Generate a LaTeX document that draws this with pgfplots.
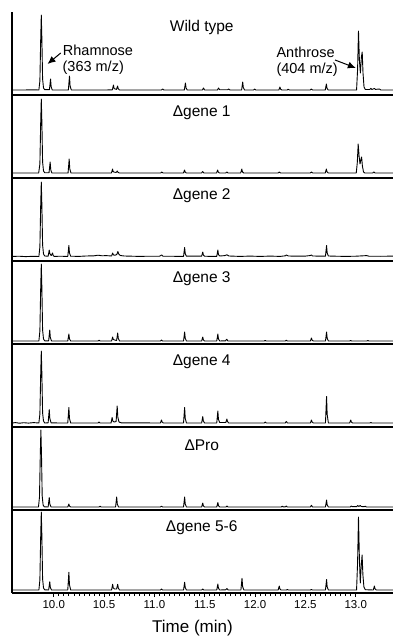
\documentclass[border=0pt]{standalone}
\usepackage{pgfplots}
\pgfplotsset{compat=1.18}
\usepackage{fontspec}
\setmainfont{Liberation Sans}
\usetikzlibrary{arrows.meta}
\pgfplotsset{
  panel/.style={
    scale only axis, width=381bp, height=83bp,
    xmin=9.585, xmax=13.37, ymin=0, ymax=83,
    axis x line=bottom, axis y line=left,
    axis line style={-, line width=1.4bp},
    xtick=\empty, ytick=\empty,
    clip=false, anchor=north west,
  },
  trace/.style={black, line width=0.9bp, line join=round, no marks},
}
\newcommand{\ptitle}{\fontsize{15.5bp}{18bp}\selectfont}
\newcommand{\pann}{\fontsize{14.5bp}{17bp}\selectfont}
\begin{document}
\begin{tikzpicture}
% Wild type
\begin{axis}[panel, at={(12bp,-12bp)}]
\addplot[trace] coordinates {(9.585,5)(9.70,5)(9.80,5.2)(9.852,5)
(9.862,14)(9.870,55)(9.876,80)(9.882,55)(9.889,16)(9.898,7)(9.91,5.3)
(9.957,5.3)(9.968,16)(9.974,8.3)(9.985,5)
(10.145,5)(10.156,19)(10.162,9.2)(10.174,5)
(10.52,5)(10.582,5.2)(10.593,10)(10.599,6.5)(10.61,6)(10.623,5.6)(10.634,9)(10.640,6.4)(10.652,5)
(11.07,5)(11.082,6)(11.094,5)
(11.297,5)(11.308,12)(11.314,7.1)(11.326,5)
(11.476,5)(11.487,7)(11.499,5)
(11.626,5)(11.637,7)(11.648,5.2)(11.726,5.2)(11.737,6)(11.75,5)
(11.866,5)(11.877,13)(11.883,7.4)(11.895,5)
(11.985,5)(11.996,5.9)(12.008,5)
(12.236,5)(12.247,8)(12.253,5.9)(12.265,5)
(12.318,5)(12.329,5.8)(12.34,5)
(12.548,5)(12.558,6)(12.57,5)
(12.697,5)(12.708,11)(12.714,6.8)(12.726,5)
(13.008,5)(13.018,25)(13.027,64)(13.036,35)(13.046,22)(13.056,38)(13.064,43)(13.072,22)(13.082,8)(13.095,5.5)
(13.14,5.5)(13.15,6.6)(13.16,5.5)(13.185,6.5)(13.195,5.6)(13.235,6)(13.25,5)(13.37,5)};
\node[font=\ptitle] at (axis cs:11.47,68) {Wild type};
\node[font=\pann, anchor=west, inner sep=0pt] at (axis cs:10.089,45) {Rhamnose};
\node[font=\pann, anchor=west, inner sep=0pt] at (axis cs:10.086,27) {(363 m/z)};
\node[font=\pann, anchor=west, inner sep=0pt] at (axis cs:12.211,42.3) {Anthrose};
\node[font=\pann, anchor=west, inner sep=0pt] at (axis cs:12.211,25) {(404 m/z)};
\draw[line width=1bp, -{Latex[length=8bp,width=7bp]}] (axis cs:10.069,42) -- (axis cs:9.938,31);
\draw[line width=1bp, -{Latex[length=8bp,width=7bp]}] (axis cs:12.794,35) -- (axis cs:13.001,27);
\end{axis}
% Delta gene 1
\begin{axis}[panel, at={(12bp,-95bp)}]
\addplot[trace] coordinates {(9.585,5)(9.85,5)
(9.862,14)(9.870,55)(9.876,79)(9.882,55)(9.889,16)(9.898,7)(9.91,5.3)
(9.953,5.3)(9.964,16)(9.970,8.3)(9.981,5)
(10.142,5)(10.153,19)(10.159,9.2)(10.171,5)
(10.573,5)(10.584,9)(10.590,6.3)(10.603,5.8)(10.620,5.6)(10.631,7)(10.637,5.8)(10.65,5)
(11.062,5)(11.073,6)(11.085,5)
(11.288,5)(11.299,8)(11.305,5.9)(11.317,5)
(11.468,5)(11.479,6.5)(11.491,5)
(11.617,5)(11.628,8)(11.634,5.9)(11.646,5)
(11.708,5)(11.72,6)(11.732,5)
(11.857,5)(11.868,9)(11.874,6.2)(11.886,5)
(12.228,5)(12.24,6)(12.252,5)
(12.548,5)(12.56,6)(12.572,5)
(12.697,5)(12.708,9)(12.714,6.2)(12.726,5)
(13.005,5)(13.015,15)(13.024,34)(13.033,22)(13.042,14)(13.052,19)(13.058,21)(13.066,12)(13.077,6)(13.09,5)
(13.168,5)(13.18,6)(13.192,5)(13.37,5)};
\node[font=\ptitle] at (axis cs:11.47,65) {Δgene 1};
\end{axis}
% Delta gene 2
\begin{axis}[panel, at={(12bp,-178bp)}]
\addplot[trace] coordinates {(9.585,4.5)(9.65,4.8)(9.72,4.4)(9.80,4.7)(9.852,4.5)
(9.862,14)(9.870,55)(9.876,79)(9.882,55)(9.889,16)(9.898,7)(9.91,5)
(9.944,4.8)(9.955,11)(9.962,7)(9.975,5.5)(9.988,8)(9.994,5.5)(10.005,4.6)
(10.07,4.8)(10.139,4.5)(10.15,15.5)(10.156,8)(10.168,4.8)
(10.25,4.6)(10.32,5)(10.40,5.2)(10.44,5.8)(10.48,5.2)(10.52,5.4)(10.574,5)(10.585,8)(10.593,6)(10.610,5.8)(10.626,6.5)(10.637,9.5)(10.645,7)(10.66,5.5)(10.70,5)
(10.85,4.6)(10.95,4.8)(11.05,4.8)(11.072,6)(11.085,4.8)(11.2,4.7)
(11.289,4.6)(11.3,13.5)(11.306,7.3)(11.318,4.8)(11.40,4.9)
(11.469,4.8)(11.48,9)(11.486,6)(11.498,4.8)(11.56,4.6)
(11.619,4.6)(11.63,11)(11.636,6.5)(11.648,5)(11.70,5.4)(11.72,6.2)(11.74,5)
(11.85,4.6)(11.95,4.9)(12.05,4.6)(12.15,4.9)(12.25,4.6)(12.3,5.2)(12.31,6)(12.33,5)(12.42,4.8)(12.50,4.9)(12.55,5.5)(12.56,6)(12.57,5)
(12.699,4.8)(12.71,15.5)(12.716,8)(12.728,5)(12.80,4.8)(12.90,4.6)(13.0,4.8)(13.11,5.4)(13.13,4.8)(13.25,4.7)(13.37,4.9)};
\node[font=\ptitle] at (axis cs:11.47,65) {Δgene 2};
\end{axis}
% Delta gene 3
\begin{axis}[panel, at={(12bp,-261bp)}]
\addplot[trace] coordinates {(9.585,3)(9.852,3)
(9.862,13)(9.870,55)(9.876,80)(9.882,55)(9.889,14)(9.898,5)(9.91,3.2)
(9.949,3.2)(9.96,14)(9.966,6.3)(9.978,3)
(10.139,3)(10.15,10)(10.156,5.1)(10.168,3)
(10.44,3)(10.45,3.8)(10.46,3)
(10.574,3)(10.585,7)(10.591,4.5)(10.612,3.8)(10.624,3.5)(10.635,11)(10.641,5.5)(10.653,3)
(11.06,3)(11.07,4)(11.08,3)
(11.289,3)(11.3,12)(11.306,5.7)(11.318,3)
(11.469,3)(11.48,7)(11.486,4.2)(11.498,3)
(11.619,3)(11.63,10)(11.636,5.1)(11.648,3)(11.706,3.2)(11.718,4.8)(11.73,3)
(12.09,3)(12.10,3.6)(12.11,3)
(12.30,3)(12.31,3.8)(12.32,3)
(12.549,3)(12.56,6)(12.566,3.9)(12.578,3)
(12.699,3)(12.71,12)(12.716,5.7)(12.728,3)
(12.94,3)(12.95,3.5)(12.96,3)(13.11,3)(13.12,3.5)(13.13,3)(13.37,3)};
\node[font=\ptitle] at (axis cs:11.47,65) {Δgene 3};
\end{axis}
% Delta gene 4
\begin{axis}[panel, at={(12bp,-344bp)}]
\addplot[trace] coordinates {(9.585,4)(9.62,4.4)(9.66,3.8)(9.70,4.3)(9.75,3.9)(9.80,4.4)(9.852,4)
(9.862,13)(9.870,52)(9.876,76)(9.882,52)(9.889,14)(9.898,6)(9.91,4)
(9.944,4.2)(9.955,17.5)(9.961,8.5)(9.973,4.2)(10.05,4)
(10.139,4)(10.15,19.5)(10.156,8.6)(10.168,4)
(10.44,4)(10.45,5)(10.46,4)
(10.569,4)(10.58,9.5)(10.586,6)(10.60,5)(10.619,5.5)(10.63,21)(10.636,10)(10.648,5)(10.67,4.2)
(11.059,4)(11.07,7)(11.076,5)(11.088,4)
(11.289,4)(11.3,19.5)(11.306,8.6)(11.318,4)
(11.469,4)(11.48,10.5)(11.486,6)(11.498,4)
(11.619,4)(11.63,16)(11.636,7.6)(11.648,4.5)(11.709,4.5)(11.72,8)(11.726,5.5)(11.738,4)
(12.09,4)(12.10,5)(12.11,4)
(12.299,4)(12.31,5.5)(12.322,4)
(12.549,4)(12.56,7)(12.566,5)(12.578,4)
(12.699,4)(12.71,30.5)(12.716,12.5)(12.728,4)
(12.939,4)(12.95,7)(12.956,5)(12.968,4)
(13.14,4)(13.15,4.5)(13.16,4)(13.37,4)};
\node[font=\ptitle] at (axis cs:11.47,65) {Δgene 4};
\end{axis}
% Delta Pro
\begin{axis}[panel, at={(12bp,-427bp)}]
\addplot[trace] coordinates {(9.585,3)(9.848,3)
(9.858,13)(9.866,55)(9.872,80)(9.878,55)(9.885,14)(9.894,5)(9.906,3.2)
(9.944,3)(9.955,12.5)(9.961,5.9)(9.973,3)
(10.139,3)(10.15,6)(10.156,3.9)(10.168,3)
(10.45,3)(10.46,3.8)(10.47,3)
(10.614,3)(10.625,13)(10.631,6)(10.643,3)
(11.06,3)(11.07,3.8)(11.08,3)
(11.289,3)(11.3,13)(11.306,6)(11.318,3)
(11.469,3)(11.48,7)(11.486,4.2)(11.498,3)
(11.619,3)(11.63,7.5)(11.636,4.4)(11.648,3)(11.71,3)(11.72,4)(11.73,3)
(12.26,3)(12.27,3.8)(12.28,3.1)(12.30,3.2)(12.31,4)(12.32,3)
(12.549,3)(12.56,4.7)(12.57,3)
(12.699,3)(12.71,10)(12.716,5.1)(12.728,3)
(12.945,3)(12.955,4)(12.965,3.3)(13.01,3.4)(13.02,4.5)(13.03,3.6)(13.045,4.5)(13.055,3.5)(13.085,3.3)(13.095,3.8)(13.105,3)(13.37,3)};
\node[font=\ptitle] at (axis cs:11.47,65) {ΔPro};
\end{axis}
% Delta gene 5-6
\begin{axis}[panel, at={(12bp,-510bp)},
  xtick={10,10.5,...,13}, minor x tick num=9,
  tick align=outside, major tick length=4bp, minor tick length=3bp,
  every tick/.style={black, line width=0.8bp},
  xticklabel style={font=\fontsize{11.5bp}{13bp}\selectfont, /pgf/number format/fixed, /pgf/number format/fixed zerofill, /pgf/number format/precision=1, /pgf/number format/assume math mode=true},
  xlabel={Time (min)},
  xlabel style={font=\fontsize{17bp}{20bp}\selectfont, xshift=-10bp, yshift=-5bp},
]
\addplot[trace] coordinates {(9.585,3)(9.852,3)
(9.862,13)(9.870,56)(9.876,81)(9.882,56)(9.889,14)(9.898,5)(9.91,3.2)
(9.949,3)(9.96,11.3)(9.966,5.5)(9.978,3)
(10.139,3)(10.15,20.7)(10.156,8.3)(10.168,3)
(10.574,3)(10.585,8.7)(10.591,5)(10.605,4)(10.624,4)(10.635,8.7)(10.641,5)(10.653,3)
(11.06,3)(11.07,4)(11.08,3)
(11.289,3)(11.3,10.7)(11.306,5.3)(11.318,3)
(11.47,3)(11.48,4)(11.49,3)
(11.619,3)(11.63,9)(11.636,4.8)(11.648,3)(11.708,3.2)(11.72,4.5)(11.732,3)
(11.859,3)(11.87,14.7)(11.876,6.5)(11.888,3)
(12.229,3)(12.24,7)(12.246,4.2)(12.258,3)
(12.31,3)(12.32,3.5)(12.33,3)(12.55,3)(12.56,3.5)(12.57,3)
(12.699,3)(12.71,13.5)(12.716,6.2)(12.728,3)
(13.008,3)(13.018,30)(13.027,76)(13.036,35)(13.045,10)(13.053,25)(13.063,38)(13.071,18)(13.081,6)(13.095,3.3)
(13.174,3)(13.185,7)(13.191,4.2)(13.203,3)(13.37,3)};
\node[font=\ptitle] at (axis cs:11.47,65) {Δgene 5-6};
\end{axis}
\pgfresetboundingbox
\path[use as bounding box] (0bp,0bp) rectangle (393bp,-643bp);
\end{tikzpicture}
\end{document}
